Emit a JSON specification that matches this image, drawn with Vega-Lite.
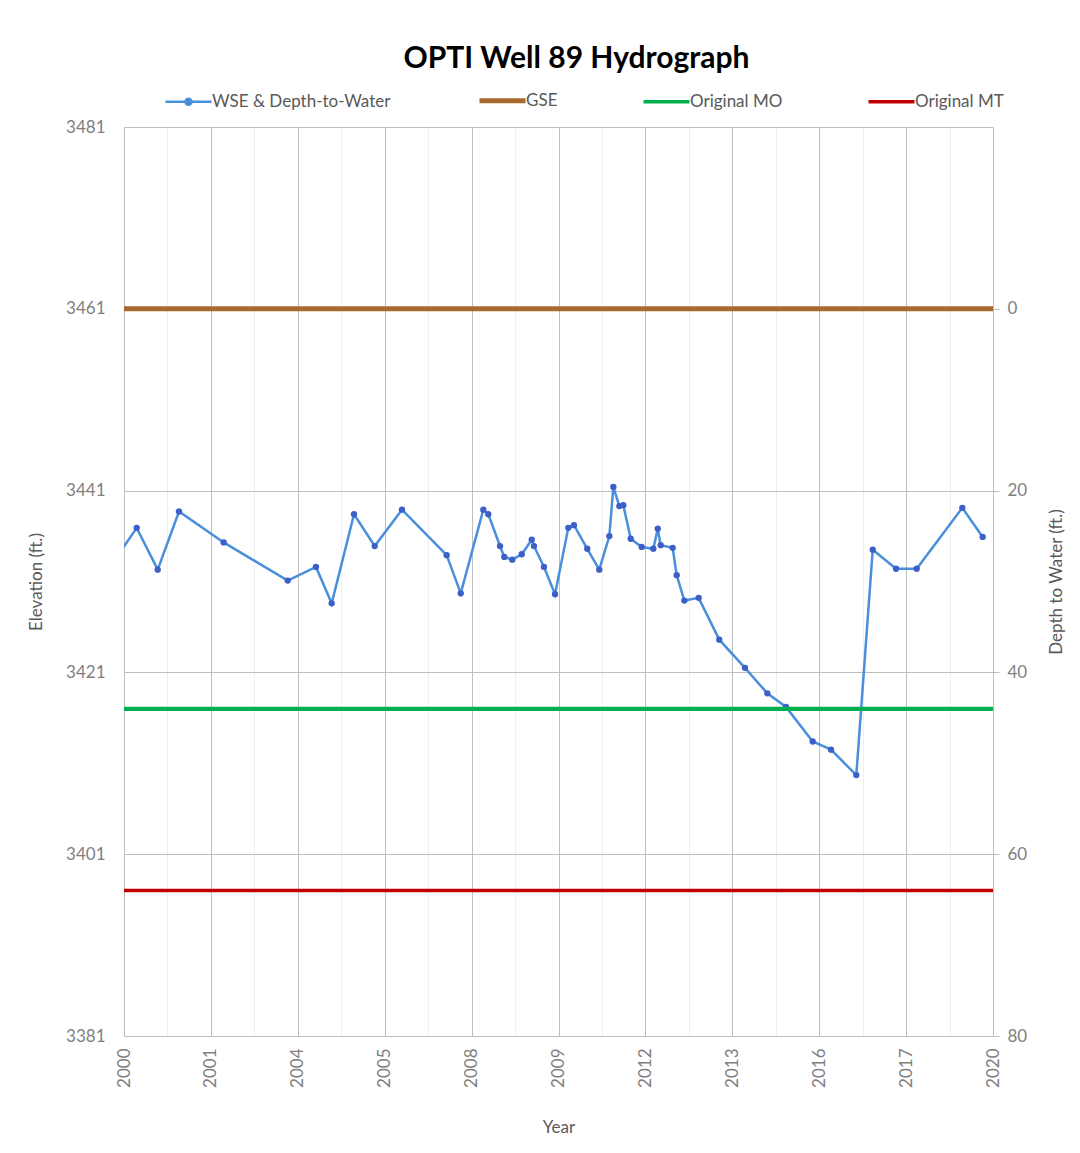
{
  "$schema": "https://vega.github.io/schema/vega-lite/v6.json",
  "width": 869,
  "height": 909,
  "autosize": {"type": "none"},
  "padding": {"left": 124, "top": 127, "right": 87, "bottom": 117},
  "background": "white",
  "config": {
    "font": "Lato",
    "view": {"stroke": null},
    "axis": {"labelFont": "Lato", "titleFont": "Lato"},
    "legend": {"labelFont": "Lato", "title": null}
  },
  "title": {
    "text": "OPTI Well 89 Hydrograph",
    "fontSize": 30,
    "fontWeight": "bold",
    "color": "#000000",
    "anchor": "middle",
    "frame": "group",
    "offset": 18,
    "dx": 18
  },
  "datasets": {
    "wse": [
      {"time": -0.06, "elev": 3434.0},
      {"time": 0.146, "elev": 3436.9},
      {"time": 0.388, "elev": 3432.3},
      {"time": 0.633, "elev": 3438.7},
      {"time": 1.147, "elev": 3435.3},
      {"time": 1.884, "elev": 3431.1},
      {"time": 2.209, "elev": 3432.6},
      {"time": 2.39, "elev": 3428.6},
      {"time": 2.647, "elev": 3438.4},
      {"time": 2.885, "elev": 3434.9},
      {"time": 3.199, "elev": 3438.9},
      {"time": 3.713, "elev": 3433.9},
      {"time": 3.875, "elev": 3429.7},
      {"time": 4.135, "elev": 3438.9},
      {"time": 4.192, "elev": 3438.4},
      {"time": 4.327, "elev": 3434.9},
      {"time": 4.376, "elev": 3433.7},
      {"time": 4.468, "elev": 3433.4},
      {"time": 4.577, "elev": 3434.0},
      {"time": 4.692, "elev": 3435.6},
      {"time": 4.718, "elev": 3434.9},
      {"time": 4.833, "elev": 3432.6},
      {"time": 4.96, "elev": 3429.6},
      {"time": 5.113, "elev": 3436.9},
      {"time": 5.178, "elev": 3437.2},
      {"time": 5.331, "elev": 3434.6},
      {"time": 5.469, "elev": 3432.3},
      {"time": 5.585, "elev": 3436.0},
      {"time": 5.631, "elev": 3441.4},
      {"time": 5.7, "elev": 3439.3},
      {"time": 5.746, "elev": 3439.4},
      {"time": 5.831, "elev": 3435.7},
      {"time": 5.957, "elev": 3434.8},
      {"time": 6.091, "elev": 3434.6},
      {"time": 6.142, "elev": 3436.8},
      {"time": 6.176, "elev": 3435.0},
      {"time": 6.314, "elev": 3434.7},
      {"time": 6.36, "elev": 3431.7},
      {"time": 6.448, "elev": 3428.9},
      {"time": 6.613, "elev": 3429.2},
      {"time": 6.85, "elev": 3424.6},
      {"time": 7.146, "elev": 3421.5},
      {"time": 7.403, "elev": 3418.7},
      {"time": 7.618, "elev": 3417.2},
      {"time": 7.925, "elev": 3413.4},
      {"time": 8.136, "elev": 3412.5},
      {"time": 8.427, "elev": 3409.7},
      {"time": 8.616, "elev": 3434.5},
      {"time": 8.884, "elev": 3432.4},
      {"time": 9.122, "elev": 3432.4},
      {"time": 9.647, "elev": 3439.1},
      {"time": 9.881, "elev": 3435.9}
    ],
    "thresholds": [
      {"series": "GSE", "elev": 3461, "depth": 0},
      {"series": "Original MO", "elev": 3417, "depth": 44},
      {"series": "Original MT", "elev": 3397, "depth": 64}
    ]
  },
  "layer": [
    {
      "data": {"name": "wse"},
      "layer": [
        {
          "mark": {"type": "line", "strokeWidth": 2.5, "clip": true},
          "encoding": {
            "x": {
              "field": "time",
              "type": "quantitative",
              "scale": {"domain": [0, 10], "nice": false, "zero": false},
              "axis": {
                "values": [0, 1, 2, 3, 4, 5, 6, 7, 8, 9, 10],
                "labelExpr": "['2000','2001','2004','2005','2008','2009','2012','2013','2016','2017','2020'][datum.value]",
                "labelAngle": 270,
                "labelAlign": "right",
                "labelBaseline": "middle",
                "labelFontSize": 17,
                "labelColor": "#7f7f7f",
                "labelPadding": 12,
                "ticks": false,
                "domain": false,
                "grid": true,
                "gridColor": "#bfbfbf",
                "gridWidth": 1,
                "title": "Year",
                "titleFontSize": 17,
                "titleFontWeight": "normal",
                "titleColor": "#595959",
                "titlePadding": 32
              }
            },
            "y": {
              "field": "elev",
              "type": "quantitative",
              "scale": {"domain": [3381, 3481], "nice": false, "zero": false},
              "axis": {
                "values": [3381, 3401, 3421, 3441, 3461, 3481],
                "format": "d",
                "labelFontSize": 17,
                "labelColor": "#7f7f7f",
                "labelPadding": 19,
                "ticks": false,
                "domain": false,
                "grid": true,
                "gridColor": "#bfbfbf",
                "gridWidth": 1,
                "title": "Elevation (ft.)",
                "titleFontSize": 17,
                "titleFontWeight": "normal",
                "titleColor": "#595959",
                "titlePadding": 20
              }
            },
            "color": {
              "datum": "WSE & Depth-to-Water",
              "type": "nominal",
              "scale": {
                "domain": ["WSE & Depth-to-Water", "GSE", "Original MO", "Original MT"],
                "range": ["#4a8fdb", "#a8692c", "#00b050", "#c00000"]
              },
              "legend": {
                "title": null,
                "orient": "none",
                "legendX": 56,
                "legendY": -35,
                "direction": "horizontal",
                "columnPadding": 78,
                "symbolType": "stroke",
                "symbolSize": 2116,
                "symbolStrokeWidth": 3,
                "labelFontSize": 17,
                "labelColor": "#595959",
                "labelOffset": 15,
                "labelLimit": 0,
                "encode": {
                  "symbols": {
                    "update": {
                      "shape": {"signal": "datum.value === 'WSE & Depth-to-Water' ? 'M-1,0H1M-0.13,0A0.13,0.13 0 1,1 0.13,0A0.13,0.13 0 1,1 -0.13,0' : 'stroke'"},
                      "strokeWidth": {"signal": "datum.value === 'GSE' ? 5 : datum.value === 'WSE & Depth-to-Water' ? 2.5 : 3.5"},
                      "fill": {"signal": "datum.value === 'WSE & Depth-to-Water' ? '#3c5fc8' : 'transparent'"}
                    }
                  }
                }
              }
            }
          }
        },
        {
          "mark": {"type": "circle", "size": 40, "opacity": 1, "color": "#3c5fc8", "clip": true},
          "encoding": {
            "x": {
              "field": "time",
              "type": "quantitative",
              "axis": {
                "orient": "top",
                "values": [0.5, 1.5, 2.5, 3.5, 4.5, 5.5, 6.5, 7.5, 8.5, 9.5],
                "grid": true,
                "gridColor": "#efefef",
                "labels": false,
                "ticks": false,
                "domain": false,
                "title": null
              }
            },
            "y": {"field": "elev", "type": "quantitative"}
          }
        }
      ],
      "resolve": {"axis": {"x": "independent"}}
    },
    {
      "data": {"name": "thresholds"},
      "mark": {"type": "rule"},
      "encoding": {
        "y": {
          "field": "depth",
          "type": "quantitative",
          "scale": {"domain": [-20, 80], "reverse": true, "nice": false, "zero": false},
          "axis": {
            "orient": "right",
            "values": [0, 20, 40, 60, 80],
            "labelFontSize": 17,
            "labelColor": "#7f7f7f",
            "labelPadding": 8,
            "ticks": true,
            "tickSize": 6,
            "tickColor": "#bfbfbf",
            "domain": false,
            "grid": false,
            "title": "Depth to Water (ft.)",
            "titleAngle": 270,
            "titleFontSize": 17,
            "titleFontWeight": "normal",
            "titleColor": "#595959",
            "titlePadding": 39
          }
        },
        "color": {"field": "series", "type": "nominal", "legend": {"title": null}},
        "strokeWidth": {
          "field": "series",
          "type": "nominal",
          "scale": {"domain": ["GSE", "Original MO", "Original MT"], "range": [5, 3.5, 3.5]},
          "legend": null
        }
      }
    }
  ],
  "resolve": {"scale": {"y": "independent"}, "axis": {"y": "independent"}}
}
